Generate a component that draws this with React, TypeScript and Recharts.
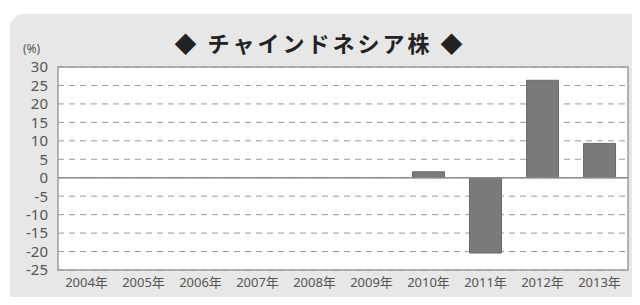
import React from 'react';
import { BarChart, Bar, XAxis, YAxis, CartesianGrid, ReferenceLine, ReferenceArea } from 'recharts';

const years = ['2004年', '2005年', '2006年', '2007年', '2008年', '2009年', '2010年', '2011年', '2012年', '2013年'];
const returns = [0, 0, 0, 0, 0, 0, 1.6, -20.4, 26.4, 9.3];
const yTicks = [-25, -20, -15, -10, -5, 0, 5, 10, 15, 20, 25, 30];

const chartData = years.map((y, i) => ({ year: y, value: returns[i] }));

const fontFamily = '"Noto Sans", "Noto Sans CJK JP", sans-serif';
const tickStyle = { fill: '#555', fontFamily };

export default function App() {
  return (
    <div style={{ position: 'relative', width: 640, height: 305, margin: -8, background: '#fff', overflow: 'hidden' }}>
      <div
        style={{
          position: 'absolute',
          left: 10,
          top: 14,
          width: 628,
          height: 300,
          background: '#e7e7e7',
          borderTopLeftRadius: 14,
          borderTopRightRadius: 6,
        }}
      />
      <div
        style={{
          position: 'absolute',
          left: 0,
          width: 640,
          top: 26,
          textAlign: 'center',
          fontFamily: '"Noto Sans CJK JP", sans-serif',
          fontWeight: 700,
          fontSize: 22,
          color: '#222',
          letterSpacing: 3,
        }}
      >
        ◆ チャインドネシア株 ◆
      </div>
      <div
        style={{
          position: 'absolute',
          left: 23,
          top: 40,
          fontFamily,
          fontSize: 12,
          color: '#555',
        }}
      >
        (%)
      </div>
      <div style={{ position: 'absolute', left: 0, top: 0 }}>
        <BarChart width={640} height={305} data={chartData} margin={{ top: 67, right: 12, bottom: 0, left: 0 }} barCategoryGap="22%">
          <CartesianGrid vertical={false} stroke="#9a9a9a" strokeDasharray="6 5" fill="#fff" fillOpacity={1} />
          <XAxis
            dataKey="year"
            height={35}
            tickLine={false}
            axisLine={false}
            interval={0}
            tick={{ ...tickStyle, fontSize: 13 }}
            tickMargin={2}
          />
          <YAxis
            width={58}
            domain={[-25, 30]}
            ticks={yTicks}
            interval={0}
            tickLine={false}
            axisLine={false}
            tick={{ ...tickStyle, fontSize: 15 }}
            tickMargin={4}
          />
          <ReferenceLine y={0} stroke="#8a8a8a" strokeWidth={1.5} />
          <Bar dataKey="value" fill="#7a7a7a" stroke="#6a6a6a" isAnimationActive={false} />
          <ReferenceArea y1={-25} y2={30} fill="none" stroke="#9c9c9c" strokeWidth={1.5} />
        </BarChart>
      </div>
    </div>
  );
}
